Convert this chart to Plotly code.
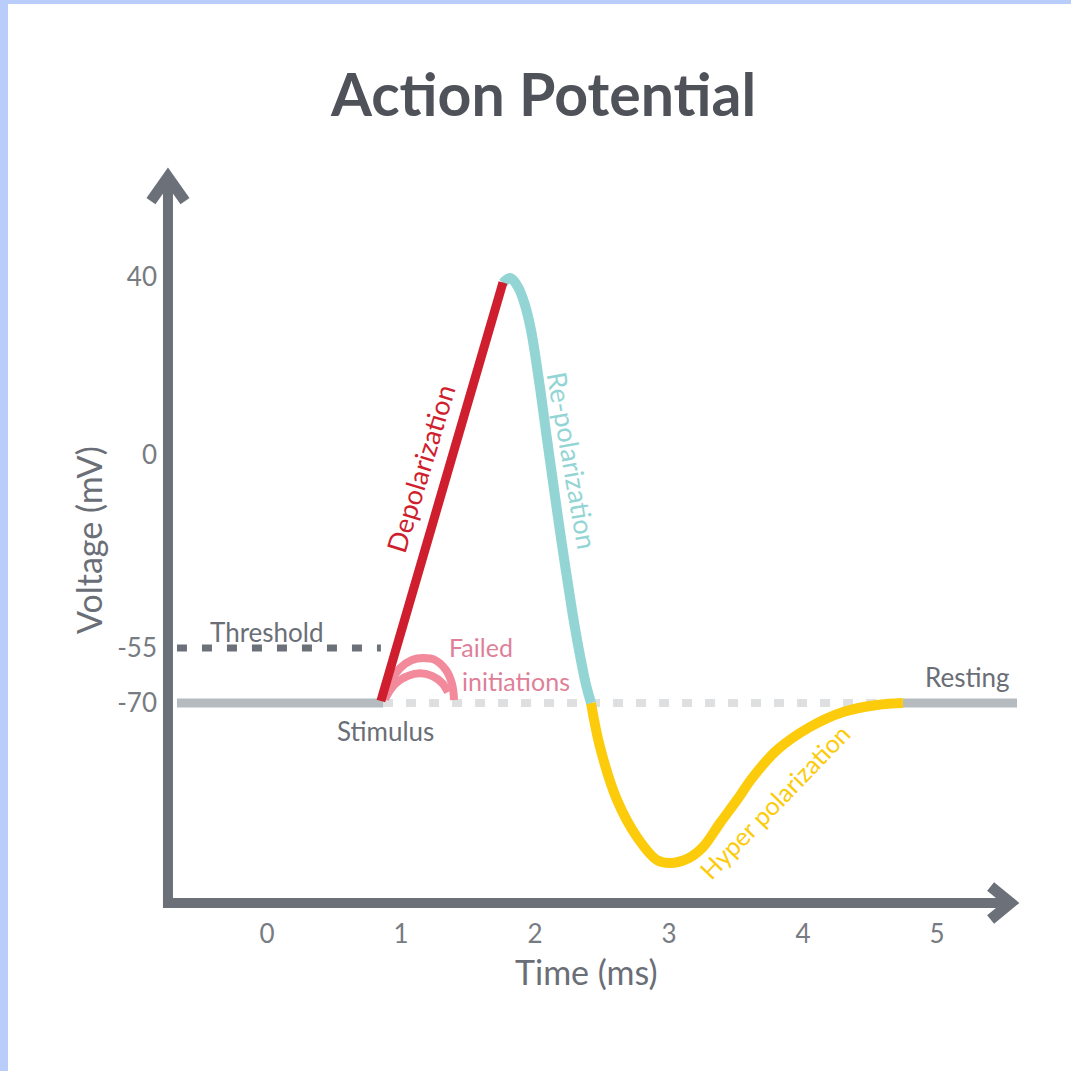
import plotly.graph_objects as go

# ---------------- data (time in ms, voltage in mV) -------------
X_TICKS = [0, 1, 2, 3, 4, 5]
X_TICK_TEXT = ["0", "1", "2", "3", "4", "5"]
Y_TICK_POS = [40, -6.0, -55.8, -70]          # where the schematic places its tick labels
Y_TICK_TEXT = ["40", "0", "-55", "-70"]

REST_LEFT_T = [-0.672, 0.866]
REST_LEFT_V = [-70, -70]

THRESH_T = [-0.672, 0.85]
THRESH_V = [-55.8, -55.8]

REST_DASH_T = [0.866, 4.72]
REST_DASH_V = [-70, -70]

DEPOL_T = [0.85, 1.761]
DEPOL_V = [-69.5, 38.6]

REPOL_T = [1.761, 1.813, 1.873, 1.925, 1.970, 2.007, 2.045, 2.082, 2.127, 2.172, 2.224, 2.276, 2.328, 2.381, 2.418]
REPOL_V = [38.45, 39.74, 37.42, 32.77, 26.32, 18.57, 9.54, -0.01, -11.11, -22.21, -34.35, -45.97, -56.30, -65.34, -70.0]

HYPER_T = [2.418, 2.485, 2.612, 2.761, 2.910, 3.007, 3.149, 3.254, 3.381, 3.507, 3.627, 3.806, 4.052, 4.299, 4.552, 4.746]
HYPER_V = [-70.0, -81.36, -95.05, -104.60, -110.54, -111.32, -110.0, -107.18, -100.99, -95.05, -89.11, -82.14, -76.20, -72.32, -70.51, -70.0]

REST_RIGHT_T = [4.746, 5.597]
REST_RIGHT_V = [-70, -70]

FAIL_OUTER_T = [0.881, 0.918, 0.993, 1.082, 1.164, 1.254, 1.336, 1.381, 1.396]
FAIL_OUTER_V = [-69.2, -64.8, -61.0, -58.9, -58.4, -58.9, -61.5, -65.1, -69.2]
FAIL_INNER_T = [0.888, 0.955, 1.052, 1.142, 1.231, 1.306, 1.351]
FAIL_INNER_V = [-68.45, -65.1, -63.0, -62.3, -63.0, -64.8, -67.2]

# axes drawn as arrows (data units)
Y_AXIS_T = [-0.739, -0.739]
Y_AXIS_V = [-122.9, 65.0]
Y_ARROW_T = [-0.866, -0.739, -0.612]
Y_ARROW_V = [59.6, 65.8, 59.6]
X_AXIS_T = [-0.776, 5.55]
X_AXIS_V = [-121.64, -121.64]
X_ARROW_T = [5.40, 5.55, 5.40]
X_ARROW_V = [-117.4, -121.64, -125.9]

# ---------------- styling ----------------
FONT = "Lato"
AXIS_COL = "#6c7079"
TEXT_COL = "#6a6e76"
TICK_COL = "#777b82"
RED = "#cf1f2e"
TEAL = "#93d5d5"
YELLOW = "#fccb0b"
GRAY = "#b6bbbf"
LIGHT = "#dedfe1"
PINK = "#f28a9c"
PINK_TXT = "#e07f99"

W = H = 1071


def px(v):
    return v / W


def py(v):
    return 1 - v / H


fig = go.Figure()


def line(t, v, color, width, dash=None, shape="linear"):
    fig.add_trace(go.Scatter(x=t, y=v, mode="lines",
                             line=dict(color=color, width=width, dash=dash, shape=shape),
                             hoverinfo="skip", showlegend=False))


line(REST_DASH_T, REST_DASH_V, LIGHT, 8, dash="10px,13px")
line(THRESH_T, THRESH_V, AXIS_COL, 7, dash="10px,15px")
line(REST_LEFT_T, REST_LEFT_V, GRAY, 9)
line(REST_RIGHT_T, REST_RIGHT_V, GRAY, 9)
line(FAIL_OUTER_T, FAIL_OUTER_V, PINK, 8, shape="spline")
line(FAIL_INNER_T, FAIL_INNER_V, PINK, 8, shape="spline")
line(HYPER_T, HYPER_V, YELLOW, 10, shape="spline")
line(REPOL_T, REPOL_V, TEAL, 10, shape="spline")
line(DEPOL_T, DEPOL_V, RED, 9)

line(Y_AXIS_T, Y_AXIS_V, AXIS_COL, 10)
line(X_AXIS_T, X_AXIS_V, AXIS_COL, 10)
line(Y_ARROW_T, Y_ARROW_V, AXIS_COL, 11)
line(X_ARROW_T, X_ARROW_V, AXIS_COL, 11)


def label(text, x, y, color, size=26, angle=0, xref="x", yref="y", weight="normal",
          yanchor="middle"):
    fig.add_annotation(text=text, x=x, y=y, xref=xref, yref=yref, showarrow=False,
                       textangle=angle, xanchor="center", yanchor=yanchor,
                       font=dict(family=FONT, size=size, color=color, weight=weight))


label("Threshold", 0.0, -51.67, TEXT_COL)
label("Stimulus", 0.881, -77.23, TEXT_COL)
label("Failed", 1.597, -59.9, PINK_TXT, size=25, yanchor="bottom")
label("initiations", 1.858, -59.9, PINK_TXT, size=25, yanchor="top")
label("Resting", 5.224, -63.29, TEXT_COL)
label("Depolarization", 1.142, -9.32, RED, size=27, angle=-73)
label("Re-polarization", 2.276, -7.51, TEAL, size=27, angle=80)
label("Hyper polarization", 3.791, -95.31, YELLOW, size=25, angle=-46)

label("Action Potential", px(543), py(93), "#505259", size=59, xref="paper", yref="paper", weight="bold")
label("Time (ms)", px(586), py(971), TEXT_COL, size=34, xref="paper", yref="paper")
label("Voltage (mV)", px(88), py(540), TEXT_COL, size=34, angle=-90, xref="paper", yref="paper")

# light blue border on top and left
fig.add_shape(type="rect", xref="paper", yref="paper", x0=0, x1=px(8), y0=0, y1=1,
              fillcolor="#b9cdfb", line_width=0)
fig.add_shape(type="rect", xref="paper", yref="paper", x0=0, x1=1, y0=py(4), y1=1,
              fillcolor="#b9cdfb", line_width=0)

X_LEFT_PX, X_RIGHT_PX = 135, 1040
Y_TOP_PX, Y_BOT_PX = 160, 935


def px2t(p):
    return (p - 267) / 134


def py2v(p):
    return 40 - (p - 277) / 3.8727


fig.update_layout(
    width=W, height=H, template="none",
    margin=dict(l=0, r=0, t=0, b=0),
    paper_bgcolor="white", plot_bgcolor="rgba(0,0,0,0)",
    xaxis=dict(domain=[px(X_LEFT_PX), px(X_RIGHT_PX)],
               range=[px2t(X_LEFT_PX), px2t(X_RIGHT_PX)],
               anchor="free", position=py(910),
               tickvals=X_TICKS, ticktext=X_TICK_TEXT, ticks="",
               ticklabelstandoff=6,
               showgrid=False, zeroline=False, showline=False, automargin=False,
               tickfont=dict(family=FONT, size=26, color=TICK_COL), fixedrange=True),
    yaxis=dict(domain=[py(Y_BOT_PX), py(Y_TOP_PX)],
               range=[py2v(Y_BOT_PX), py2v(Y_TOP_PX)],
               anchor="free", position=px(163),
               tickvals=Y_TICK_POS, ticktext=Y_TICK_TEXT, ticks="",
               ticklabelstandoff=6,
               showgrid=False, zeroline=False, showline=False, automargin=False,
               tickfont=dict(family=FONT, size=26, color=TICK_COL), fixedrange=True),
)

fig.write_html("out.html", config={"displayModeBar": False},
               post_script="document.body.style.margin='0px';document.body.style.overflow='hidden';")
